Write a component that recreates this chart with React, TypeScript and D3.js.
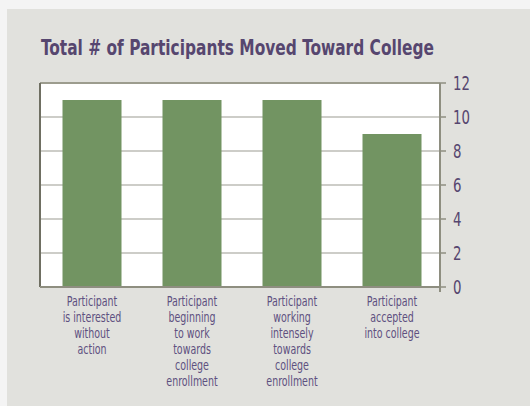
import React, { useEffect, useRef } from "react";
import * as d3 from "d3";

const title = "Total # of Participants Moved Toward College";
const categories = ["interested", "beginning", "working", "accepted"];
const values = [11, 11, 11, 9];
const labelLines = [
  ["Participant", "is interested", "without", "action"],
  ["Participant", "beginning", "to work", "towards", "college", "enrollment"],
  ["Participant", "working", "intensely", "towards", "college", "enrollment"],
  ["Participant", "accepted", "into college"],
];
const yTicks = [0, 2, 4, 6, 8, 10, 12];

const W = 530;
const H = 406;
const FONT = "'DejaVu Sans Condensed', 'DejaVu Sans', sans-serif";
const PURPLE = "#56466f";

export default function App() {
  const ref = useRef<SVGSVGElement | null>(null);

  useEffect(() => {
    const svg = d3.select(ref.current);
    svg.selectAll("*").remove();

    const plot = { left: 40, right: 440, top: 83, bottom: 287 };

    // backgrounds
    svg.append("rect").attr("width", W).attr("height", H).attr("fill", "#f4f4f4");
    svg.append("rect").attr("x", 7).attr("y", 9).attr("width", W - 7).attr("height", H - 9).attr("fill", "#e1e1dd");

    // title
    svg
      .append("text")
      .attr("x", 41)
      .attr("y", 55)
      .attr("font-family", FONT)
      .attr("font-weight", "bold")
      .attr("font-size", 21)
      .attr("fill", PURPLE)
      .attr("textLength", 393)
      .attr("lengthAdjust", "spacingAndGlyphs")
      .text(title);

    const x = d3.scaleBand<string>().domain(categories).range([plot.left + 2, plot.right + 2]).paddingInner(0.41).paddingOuter(0.205);
    const y = d3.scaleLinear().domain([0, 12]).range([plot.bottom, plot.top]);

    svg
      .append("rect")
      .attr("x", plot.left)
      .attr("y", plot.top)
      .attr("width", plot.right - plot.left)
      .attr("height", plot.bottom - plot.top)
      .attr("fill", "#ffffff");

    // gridlines
    svg
      .append("g")
      .selectAll("line")
      .data(yTicks.filter((t) => t > 0 && t < 12))
      .join("line")
      .attr("x1", plot.left)
      .attr("x2", plot.right)
      .attr("y1", (d) => y(d))
      .attr("y2", (d) => y(d))
      .attr("stroke", "#cdcdc8")
      .attr("stroke-width", 2);

    // bars
    svg
      .append("g")
      .selectAll("rect")
      .data(values)
      .join("rect")
      .attr("x", (_, i) => x(categories[i])!)
      .attr("y", (d) => y(d))
      .attr("width", x.bandwidth())
      .attr("height", (d) => plot.bottom - y(d))
      .attr("fill", "#729462");

    // frame
    svg.append("line").attr("x1", plot.left).attr("x2", plot.right).attr("y1", plot.top).attr("y2", plot.top).attr("stroke", "#9c9c8e").attr("stroke-width", 2);
    svg.append("line").attr("x1", plot.left).attr("x2", plot.left).attr("y1", plot.top).attr("y2", plot.bottom).attr("stroke", "#6f6f62").attr("stroke-width", 2);
    svg.append("line").attr("x1", plot.left).attr("x2", plot.right).attr("y1", plot.bottom).attr("y2", plot.bottom).attr("stroke", "#8e8e80").attr("stroke-width", 2);

    // right axis
    const axis = svg.append("g").attr("transform", `translate(${plot.right},0)`);
    axis.append("line").attr("y1", plot.top).attr("y2", plot.bottom + 5).attr("stroke", "#8e8e80").attr("stroke-width", 2);
    axis
      .selectAll("line.tick")
      .data(yTicks)
      .join("line")
      .attr("class", "tick")
      .attr("x1", 0)
      .attr("x2", 6)
      .attr("y1", (d) => y(d))
      .attr("y2", (d) => y(d))
      .attr("stroke", "#8e8e80")
      .attr("stroke-width", 1.5);
    axis
      .selectAll("text")
      .data(yTicks)
      .join("text")
      .attr("transform", (d) => `translate(13,${y(d) + 7}) scale(0.74,1)`)
      .attr("font-family", FONT)
      .attr("font-size", 20)
      .attr("fill", PURPLE)
      .text((d) => d);

    // category labels
    const lab = svg.append("g");
    labelLines.forEach((lines, i) => {
      const cx = x(categories[i])! + x.bandwidth() / 2;
      lines.forEach((ln, j) => {
        lab
          .append("text")
          .attr("transform", `translate(${cx},${306 + j * 16}) scale(0.78,1)`)
          .attr("text-anchor", "middle")
          .attr("font-family", FONT)
          .attr("font-size", 13.5)
          .attr("fill", "#5e5080")
          .text(ln);
      });
    });
  }, []);

  return (
    <svg
      ref={ref}
      width={W}
      height={H}
      style={{ position: "absolute", left: 0, top: 0, display: "block" }}
    />
  );
}
